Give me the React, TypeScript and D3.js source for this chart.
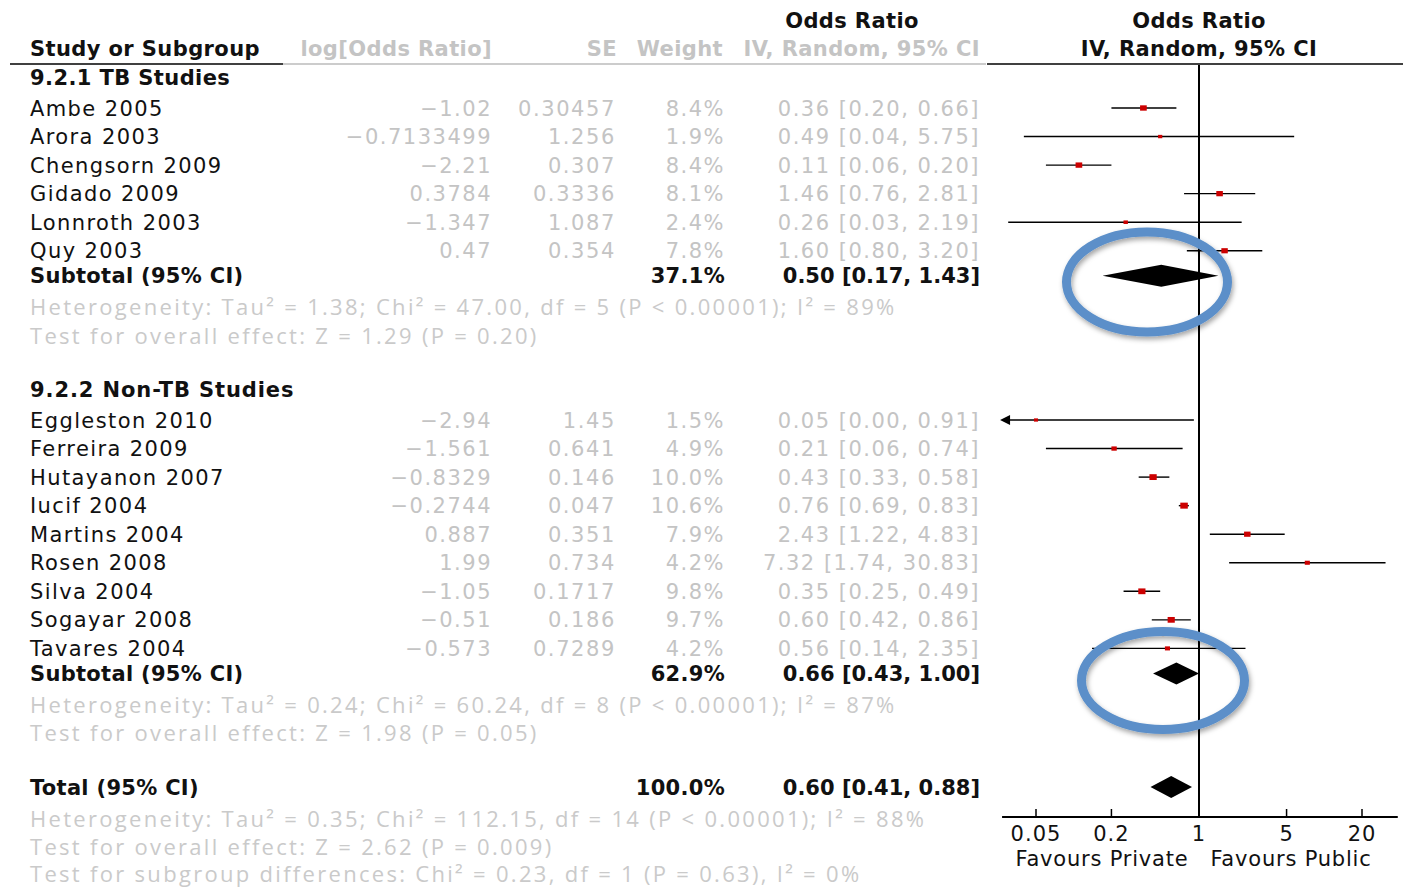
import React from "react";
import * as d3 from "d3";

// ---------- DATA ----------
const group1Names = ["Ambe 2005", "Arora 2003", "Chengsorn 2009", "Gidado 2009", "Lonnroth 2003", "Quy 2003"];
const group1LogOR = ["-1.02", "-0.7133499", "-2.21", "0.3784", "-1.347", "0.47"];
const group1SE = ["0.30457", "1.256", "0.307", "0.3336", "1.087", "0.354"];
const group1Weight = [8.4, 1.9, 8.4, 8.1, 2.4, 7.8];
const group1OR = [0.36, 0.49, 0.11, 1.46, 0.26, 1.6];
const group1Lo = [0.2, 0.04, 0.06, 0.76, 0.03, 0.8];
const group1Hi = [0.66, 5.75, 0.2, 2.81, 2.19, 3.2];

const group2Names = ["Eggleston 2010", "Ferreira 2009", "Hutayanon 2007", "Iucif 2004", "Martins 2004", "Rosen 2008", "Silva 2004", "Sogayar 2008", "Tavares 2004"];
const group2LogOR = ["-2.94", "-1.561", "-0.8329", "-0.2744", "0.887", "1.99", "-1.05", "-0.51", "-0.573"];
const group2SE = ["1.45", "0.641", "0.146", "0.047", "0.351", "0.734", "0.1717", "0.186", "0.7289"];
const group2Weight = [1.5, 4.9, 10.0, 10.6, 7.9, 4.2, 9.8, 9.7, 4.2];
const group2OR = [0.05, 0.21, 0.43, 0.76, 2.43, 7.32, 0.35, 0.6, 0.56];
const group2Lo = [0.0, 0.06, 0.33, 0.69, 1.22, 1.74, 0.25, 0.42, 0.14];
const group2Hi = [0.91, 0.74, 0.58, 0.83, 4.83, 30.83, 0.49, 0.86, 2.35];

const groupTitles = ["9.2.1 TB Studies", "9.2.2 Non-TB Studies"];
const subtotalWeight = [37.1, 62.9];
const subtotalOR = [0.5, 0.66];
const subtotalLo = [0.17, 0.43];
const subtotalHi = [1.43, 1.0];
const groupHet = [
  "Heterogeneity: Tau² = 1.38; Chi² = 47.00, df = 5 (P < 0.00001); I² = 89%",
  "Heterogeneity: Tau² = 0.24; Chi² = 60.24, df = 8 (P < 0.00001); I² = 87%",
];
const groupTest = [
  "Test for overall effect: Z = 1.29 (P = 0.20)",
  "Test for overall effect: Z = 1.98 (P = 0.05)",
];

const totalWeight = 100.0;
const totalOR = 0.6;
const totalLo = 0.41;
const totalHi = 0.88;
const totalFooters = [
  "Heterogeneity: Tau² = 0.35; Chi² = 112.15, df = 14 (P < 0.00001); I² = 88%",
  "Test for overall effect: Z = 2.62 (P = 0.009)",
  "Test for subgroup differences: Chi² = 0.23, df = 1 (P = 0.63), I² = 0%",
];

const axisTicks = [0.05, 0.2, 1, 5, 20];
const axisTickLabels = ["0.05", "0.2", "1", "5", "20"];
const axisDomain = [0.0268, 38.6];
const favoursLabels = ["Favours Private", "Favours Public"];

// ---------- STYLE ----------
const FONT = "'DejaVu Sans', Verdana, sans-serif";
const FOOT_FONT = "'Open Sans', 'Liberation Sans', Arial, sans-serif";
const GRAY = "#c4c4c4";
const FOOT_GRAY = "#cacaca";
const BLACK = "#111";
const RED = "#cc0000";
const BLUE = "#5b8fc9";
const FS = 21;

const colLog = 492;
const colSE = 616;
const colW = 725;
const colCI = 980;
const nameX = 30;

const fmtNum = (s: string) => s.replace("-", "−");
const fmtCI = (o: number, l: number, h: number) => `${o.toFixed(2)} [${l.toFixed(2)}, ${h.toFixed(2)}]`;

const footProps = { fontFamily: FOOT_FONT, fontSize: 22, letterSpacing: 2.3, fill: FOOT_GRAY };

export default function App() {
  const x = d3.scaleLog().domain([0.05, 20]).range([1036, 1362]);
  const size = d3.scaleLinear().domain([0, 10.6]).range([3.5, 7.5]);
  const axisY = 817;
  const zeroX = x(1);

  type Study = { name: string; log: string; se: string; w: number; or: number; lo: number; hi: number };
  const groups: Study[][] = [
    group1Names.map((n, i) => ({ name: n, log: group1LogOR[i], se: group1SE[i], w: group1Weight[i], or: group1OR[i], lo: group1Lo[i], hi: group1Hi[i] })),
    group2Names.map((n, i) => ({ name: n, log: group2LogOR[i], se: group2SE[i], w: group2Weight[i], or: group2OR[i], lo: group2Lo[i], hi: group2Hi[i] })),
  ];
  const rowH = 28.55;
  const groupStart = [77, 389];

  const textEls: React.ReactNode[] = [];
  const markEls: React.ReactNode[] = [];

  const diamond = (o: number, l: number, h: number, y: number, key: string) => {
    const hh = 11;
    const p = d3.path();
    p.moveTo(x(l), y);
    p.lineTo(x(o), y - hh);
    p.lineTo(x(h), y);
    p.lineTo(x(o), y + hh);
    p.closePath();
    return <path key={key} d={p.toString()} fill="#000" />;
  };

  groups.forEach((studies, g) => {
    const y0 = groupStart[g];
    textEls.push(
      <text key={`gt${g}`} x={nameX} y={y0} dy="0.36em" fontWeight="bold" letterSpacing={g === 1 ? 0.9 : 0.4} fill={BLACK}>
        {groupTitles[g]}
      </text>
    );
    studies.forEach((s, i) => {
      const y = y0 + 31 + i * rowH;
      textEls.push(
        <g key={`r${g}-${i}`}>
          <text x={nameX} y={y} dy="0.36em" fill={BLACK} letterSpacing={1.4}>{s.name}</text>
          <text x={colLog} y={y} dy="0.36em" fill={GRAY} textAnchor="end" letterSpacing={1.5}>{fmtNum(s.log)}</text>
          <text x={colSE} y={y} dy="0.36em" fill={GRAY} textAnchor="end" letterSpacing={1.6}>{s.se}</text>
          <text x={colW} y={y} dy="0.36em" fill={GRAY} textAnchor="end" letterSpacing={1.5}>{s.w.toFixed(1)}%</text>
          <text x={colCI} y={y} dy="0.36em" fill={GRAY} textAnchor="end" letterSpacing={1.5}>{fmtCI(s.or, s.lo, s.hi)}</text>
        </g>
      );
      const clippedLo = s.lo < axisDomain[0];
      const xl = clippedLo ? x(axisDomain[0]) : x(s.lo);
      const sz = size(s.w);
      markEls.push(
        <g key={`m${g}-${i}`}>
          <line x1={xl} x2={x(Math.min(s.hi, axisDomain[1]))} y1={y} y2={y} stroke="#000" strokeWidth={1.4} />
          {clippedLo && (
            <path d={`M${xl - 2},${y} L${xl + 8},${y - 5} L${xl + 8},${y + 5} Z`} fill="#000" />
          )}
          <rect x={x(s.or) - sz / 2} y={y - (sz * 0.8) / 2} width={sz} height={sz * 0.8} fill={RED} />
        </g>
      );
    });
    const ys = y0 + 31 + (studies.length - 1) * rowH + 25;
    textEls.push(
      <g key={`st${g}`}>
        <text x={nameX} y={ys} dy="0.36em" fontWeight="bold" letterSpacing={0.3} fill={BLACK}>Subtotal (95% CI)</text>
        <text x={colW} y={ys} dy="0.36em" fontWeight="bold" letterSpacing={0.3} fill={BLACK} textAnchor="end">{subtotalWeight[g].toFixed(1)}%</text>
        <text x={colCI} y={ys} dy="0.36em" fontWeight="bold" letterSpacing={0} fill={BLACK} textAnchor="end">{fmtCI(subtotalOR[g], subtotalLo[g], subtotalHi[g])}</text>
        <text x={nameX} y={ys + 32} dy="0.34em" {...footProps}>{groupHet[g]}</text>
        <text x={nameX} y={ys + 60.5} dy="0.34em" {...footProps}>{groupTest[g]}</text>
      </g>
    );
    markEls.push(diamond(subtotalOR[g], subtotalLo[g], subtotalHi[g], ys, `d${g}`));
  });

  const yt = 787;
  textEls.push(
    <g key="total">
      <text x={nameX} y={yt} dy="0.36em" fontWeight="bold" letterSpacing={0.3} fill={BLACK}>Total (95% CI)</text>
      <text x={colW} y={yt} dy="0.36em" fontWeight="bold" letterSpacing={0.3} fill={BLACK} textAnchor="end">{totalWeight.toFixed(1)}%</text>
      <text x={colCI} y={yt} dy="0.36em" fontWeight="bold" letterSpacing={0} fill={BLACK} textAnchor="end">{fmtCI(totalOR, totalLo, totalHi)}</text>
      {totalFooters.map((t, i) => (
        <text key={i} x={nameX} y={yt + 33 + i * 27.5} dy="0.34em" {...footProps}>{t}</text>
      ))}
    </g>
  );
  markEls.push(diamond(totalOR, totalLo, totalHi, yt, "dt"));

  return (
    <svg
      width={1403}
      height={887}
      style={{ position: "absolute", left: 0, top: 0, background: "#fff" }}
      fontFamily={FONT}
      fontSize={FS}
    >
      <defs>
        <filter id="sh" x="-20%" y="-20%" width="140%" height="140%">
          <feDropShadow dx="1.5" dy="3" stdDeviation="2.5" floodColor="#000" floodOpacity="0.35" />
        </filter>
      </defs>
      <rect width={1403} height={887} fill="#fff" />

      {/* headers */}
      <text x={852} y={20} dy="0.36em" fontWeight="bold" letterSpacing={0.4} fill={BLACK} textAnchor="middle">Odds Ratio</text>
      <text x={nameX} y={48} dy="0.36em" fontWeight="bold" letterSpacing={0.4} fill={BLACK}>Study or Subgroup</text>
      <text x={colLog} y={48} dy="0.36em" fontWeight="bold" letterSpacing={0.4} fill={GRAY} textAnchor="end">log[Odds Ratio]</text>
      <text x={colSE + 1} y={48} dy="0.36em" fontWeight="bold" letterSpacing={0.4} fill={GRAY} textAnchor="end">SE</text>
      <text x={colW - 2} y={48} dy="0.36em" fontWeight="bold" letterSpacing={0.4} fill={GRAY} textAnchor="end">Weight</text>
      <text x={colCI} y={48} dy="0.36em" fontWeight="bold" letterSpacing={0.4} fill={GRAY} textAnchor="end">IV, Random, 95% CI</text>
      <text x={zeroX} y={20} dy="0.36em" fontWeight="bold" letterSpacing={0.4} fill={BLACK} textAnchor="middle">Odds Ratio</text>
      <text x={zeroX} y={48} dy="0.36em" fontWeight="bold" letterSpacing={0.4} fill={BLACK} textAnchor="middle">IV, Random, 95% CI</text>

      <line x1={10} x2={283} y1={64} y2={64} stroke="#000" strokeWidth={1.5} />
      <line x1={283} x2={986} y1={64} y2={64} stroke="#bbb" strokeWidth={1.5} />
      <line x1={987} x2={1403} y1={64} y2={64} stroke="#000" strokeWidth={1.5} />

      {textEls}

      {/* plot */}
      <line x1={zeroX} x2={zeroX} y1={65} y2={axisY} stroke="#000" strokeWidth={2} />
      {markEls}
      <line x1={x(axisDomain[0])} x2={x(axisDomain[1])} y1={axisY} y2={axisY} stroke="#000" strokeWidth={2} />
      {axisTicks.map((t, i) => (
        <g key={`t${i}`}>
          <line x1={x(t)} x2={x(t)} y1={axisY} y2={axisY - 8} stroke="#000" strokeWidth={1.5} />
          <text x={x(t)} y={833} dy="0.36em" textAnchor="middle" fill={BLACK} letterSpacing={1}>{axisTickLabels[i]}</text>
        </g>
      ))}
      <text x={1102} y={858} dy="0.36em" textAnchor="middle" fill={BLACK} letterSpacing={0.8}>{favoursLabels[0]}</text>
      <text x={1291} y={858} dy="0.36em" textAnchor="middle" fill={BLACK} letterSpacing={0.8}>{favoursLabels[1]}</text>

      {/* annotation ellipses */}
      <ellipse cx={1147} cy={282} rx={80.5} ry={50} fill="none" stroke={BLUE} strokeWidth={9} filter="url(#sh)" />
      <ellipse cx={1163} cy={680.5} rx={81.5} ry={49} fill="none" stroke={BLUE} strokeWidth={9} filter="url(#sh)" />
    </svg>
  );
}
